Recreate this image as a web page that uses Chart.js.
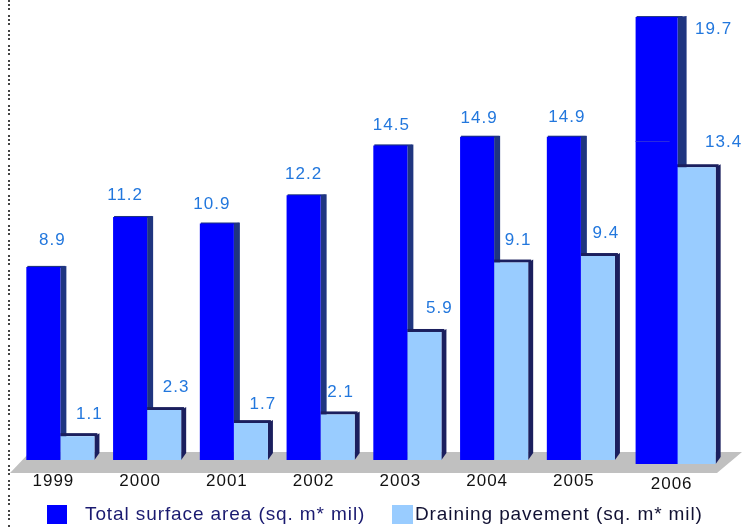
<!DOCTYPE html>
<html>
<head>
<meta charset="utf-8">
<style>
  html, body { margin: 0; padding: 0; background: #fff; }
  canvas { display: block; }
</style>
<script src="https://cdn.jsdelivr.net/npm/chart.js@4"></script>
</head>
<body>
<canvas id="chart" width="742" height="527"></canvas>
<script>
const years = ['1999', '2000', '2001', '2002', '2003', '2004', '2005', '2006'];
const totalSurface = [8.9, 11.2, 10.9, 12.2, 14.5, 14.9, 14.9, 19.7];
const drainingPavement = [1.1, 2.3, 1.7, 2.1, 5.9, 9.1, 9.4, 13.4];

const fontFamily = '"Liberation Sans", Arial, sans-serif';

// the value labels sit unevenly around their bars in the original
const blueLabelShiftX = [9, -5, -5, 0, 1, 2, 3, 57];
const blueLabelShiftY = [-27, -22, -19, -21, -20, -18, -19, 12];
const lightLabelShiftX = [12, 12, 12, 3, 15, 7, 8, 28];
const lightLabelShiftY = [-22, -23, -19, -22, -24, -22, -23, -25];

// the last group is drawn bigger and further right than the others in the original
const lastGroup = {
    afterDatasetsUpdate(chart) {
        const last = years.length - 1;
        const blue = chart.getDatasetMeta(0).data[last];
        const light = chart.getDatasetMeta(1).data[last];
        blue.x += 6;
        blue.width = 42;
        blue.y -= 15.5;
        blue.base += 4;
        light.x += 11;
        light.width = 40;
        light.y -= 2;
        light.base += 4;
    }
};

function drawSide(ctx, bar, depth, rise, color) {
    const right = bar.x + bar.width / 2;
    ctx.fillStyle = color;
    ctx.beginPath();
    ctx.moveTo(right, bar.y);
    ctx.lineTo(right + depth, bar.y - rise);
    ctx.lineTo(right + depth, bar.base - 7);
    ctx.lineTo(right, bar.base);
    ctx.closePath();
    ctx.fill();
}

const scenery = {
    beforeDatasetsDraw(chart) {
        const ctx = chart.ctx;
        const base = chart.scales.y.getPixelForValue(0);
        ctx.save();

        // dotted line on the left
        ctx.strokeStyle = '#444';
        ctx.lineWidth = 2;
        ctx.setLineDash([2, 2, 2, 2, 2, 5]);
        ctx.beginPath();
        ctx.moveTo(9, 0);
        ctx.lineTo(9, 527);
        ctx.stroke();
        ctx.setLineDash([]);

        // grey floor
        ctx.fillStyle = '#c0c0c0';
        ctx.beginPath();
        ctx.moveTo(30, base - 8);
        ctx.lineTo(742, base - 8);
        ctx.lineTo(717, base + 13);
        ctx.lineTo(10, base + 13);
        ctx.closePath();
        ctx.fill();

        chart.getDatasetMeta(0).data.forEach(bar => {
            drawSide(ctx, bar, bar.width > 40 ? 9 : 6, 1, '#1f3580');
            ctx.fillStyle = '#1f3580';
            ctx.fillRect(bar.x - bar.width / 2 + 1, bar.y - 1, bar.width + 4, 2);
        });
        chart.getDatasetMeta(1).data.forEach(bar => {
            drawSide(ctx, bar, 5, 3, '#1b1f5e');
            ctx.fillStyle = '#1b1f5e';
            ctx.fillRect(bar.x - bar.width / 2, bar.y - 3, bar.width + 3, 3);
        });
        ctx.restore();
    },
    afterDatasetsDraw(chart) {
        const ctx = chart.ctx;
        const last = years.length - 1;
        const blue = chart.getDatasetMeta(0).data;
        const light = chart.getDatasetMeta(1).data;
        ctx.save();

        // faint seam across the tall bar
        ctx.fillStyle = '#2a2ae0';
        ctx.fillRect(blue[last].x - blue[last].width / 2, 141, 34, 1);

        // value labels
        ctx.font = '17px ' + fontFamily;
        ctx.letterSpacing = '1px';
        ctx.fillStyle = '#2277dd';
        ctx.textAlign = 'center';
        ctx.textBaseline = 'middle';
        blue.forEach((bar, i) => {
            ctx.fillText(totalSurface[i].toFixed(1), bar.x + blueLabelShiftX[i], bar.y + blueLabelShiftY[i]);
        });
        light.forEach((bar, i) => {
            ctx.fillText(drainingPavement[i].toFixed(1), bar.x + lightLabelShiftX[i], bar.y + lightLabelShiftY[i]);
        });

        // year labels
        ctx.font = '17px ' + fontFamily;
        ctx.letterSpacing = '1px';
        ctx.fillStyle = '#111';
        years.forEach((year, i) => {
            const x = chart.scales.x.getPixelForValue(i);
            if (i === last) ctx.fillText(year, x + 4, 484);
            else ctx.fillText(year, x - 7, 481);
        });

        // legend
        ctx.textAlign = 'left';
        ctx.font = '19px ' + fontFamily;
        ctx.letterSpacing = '0.9px';
        ctx.fillStyle = '#0000ff';
        ctx.fillRect(47, 505, 20, 19);
        ctx.fillStyle = '#99ccff';
        ctx.fillRect(392, 505, 21, 19);
        ctx.fillStyle = '#1a1a70';
        ctx.fillText(chart.data.datasets[0].label, 85, 515);
        ctx.fillStyle = '#111133';
        ctx.fillText(chart.data.datasets[1].label, 415, 515);
        ctx.restore();
    }
};

new Chart(document.getElementById('chart').getContext('2d'), {
    type: 'bar',
    data: {
        labels: years,
        datasets: [
            { label: 'Total surface area (sq. m* mil)', data: totalSurface, backgroundColor: '#0000ff', clip: false },
            { label: 'Draining pavement (sq. m* mil)', data: drainingPavement, backgroundColor: '#99ccff', clip: false }
        ]
    },
    options: {
        responsive: false,
        animation: false,
        layout: { padding: { left: 17, right: 31, top: 0, bottom: 67 } },
        categoryPercentage: 0.785,
        barPercentage: 1,
        plugins: { legend: { display: false }, tooltip: { enabled: false } },
        scales: {
            x: { display: false },
            y: { display: false, min: 0, max: 21.2 }
        }
    },
    plugins: [lastGroup, scenery]
});
</script>
</body>
</html>
